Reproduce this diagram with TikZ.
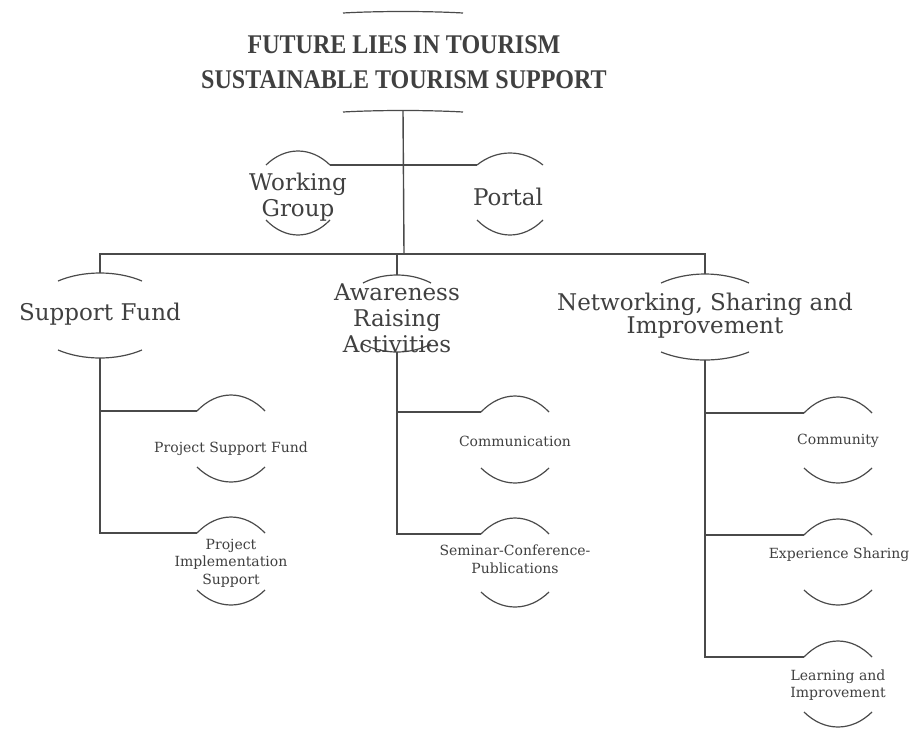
\documentclass[tikz,border=0pt]{standalone}
\usepackage{fontspec}
\setmainfont{DejaVu Serif}
\newfontfamily\titlefont{Liberation Serif}
\definecolor{ink}{HTML}{404040}
\definecolor{linec}{HTML}{4A4A4A}
\tikzset{
  conn/.style={draw=linec, line width=1.4pt},
  capline/.style={draw=linec, line width=1.2pt},
  bigtext/.style={font=\fontsize{23}{26}\selectfont, text=ink, align=center, inner sep=0pt},
  smalltext/.style={font=\fontsize{14}{17.5}\selectfont, text=ink, align=center, inner sep=0pt},
  titletext/.style={font=\titlefont\bfseries\fontsize{27}{32}\selectfont, text=ink, inner sep=0pt}
}
% name, cx, topy, boty, halfwidth, top height, bottom sag
\newcommand\capshape[7]{%
  \coordinate (#1-tl) at (#2-#5,#3);
  \coordinate (#1-tr) at (#2+#5,#3);
  \coordinate (#1-top) at (#2,#3-#6);
  \coordinate (#1-bl) at (#2-#5,#4);
  \coordinate (#1-br) at (#2+#5,#4);
  \coordinate (#1-bot) at (#2,#4+#7);
  \draw[capline] (#1-tl) .. controls +(0.6*#5,-1.333*#6) and +(-0.6*#5,-1.333*#6) .. (#1-tr);
  \draw[capline] (#1-bl) .. controls +(0.6*#5,1.333*#7) and +(-0.6*#5,1.333*#7) .. (#1-br);
}
\begin{document}
\begin{tikzpicture}[x=1pt,y=-1pt]
\fill[white] (0,0) rectangle (915,731);
\useasboundingbox (0,0) rectangle (915,731);

% title
\capshape{title}{403}{13}{112}{60}{1.5}{-1.5}
\node[titletext] (t1) at (404,45) {\scalebox{0.89}[1]{FUTURE LIES IN TOURISM}};
\node[titletext] (t2) at (404,80) {\scalebox{0.89}[1]{SUSTAINABLE TOURISM SUPPORT}};

% first level
\capshape{wg}{298}{165}{220}{32}{14}{15}
\node[bigtext] (wgt) at (298,197) {Working\\Group};
\capshape{po}{510}{165}{220}{33}{12}{15}
\node[bigtext] (pot) at (508,197) {Portal};

% second level
\capshape{sf}{100}{281}{350}{42}{8}{8}
\node[bigtext] (sft) at (100,314) {Support Fund};
\capshape{ar}{397}{283}{344}{34}{8}{8}
\node[bigtext] (art) at (397,318) {Awareness\\Raising\\Activities};
\capshape{nw}{705}{283}{352}{44}{9}{8}
\node[bigtext, font=\fontsize{23}{23}\selectfont] (nwt) at (705,316) {Networking, Sharing and\\Improvement};

% third level
\capshape{psf}{231}{411}{467}{34}{16}{15}
\node[smalltext] (psft) at (231,449) {Project Support Fund};
\capshape{pis}{231}{533}{590}{34}{16}{15}
\node[smalltext] (pist) at (231,563) {Project\\Implementation\\Support};
\capshape{com}{515}{412}{468}{34}{16}{15}
\node[smalltext] (comt) at (515,441) {Communication};
\capshape{sem}{515}{534}{592}{34}{16}{15}
\node[smalltext, font=\fontsize{14}{18}\selectfont] (semt) at (515,559) {Seminar-Conference-\\Publications};
\capshape{cmy}{838}{413}{468}{34}{16}{15}
\node[smalltext] (cmyt) at (838,441) {Community};
\capshape{exp}{838}{535}{590}{34}{16}{15}
\node[smalltext] (expt) at (839,555) {Experience Sharing};
\capshape{lrn}{838}{657}{712}{34}{16}{15}
\node[smalltext] (lrnt) at (838,685) {Learning and\\Improvement};

% connectors
\coordinate (bar) at (404,254);
\draw[conn] (title-bot) -- (bar);
\draw[conn] (wg-tr) -- (po-tl);
\draw[conn] (sf-top) |- (bar) -| (nw-top);
\draw[conn] (bar -| ar-top) -- (ar-top);

\draw[conn] (sf-bot) |- (pis-tl);
\draw[conn] (sf-bot |- psf-tl) -- (psf-tl);
\draw[conn] (ar-bot) |- (sem-tl);
\draw[conn] (ar-bot |- com-tl) -- (com-tl);
\draw[conn] (nw-bot) |- (lrn-tl);
\draw[conn] (nw-bot |- cmy-tl) -- (cmy-tl);
\draw[conn] (nw-bot |- exp-tl) -- (exp-tl);
\end{tikzpicture}
\end{document}
